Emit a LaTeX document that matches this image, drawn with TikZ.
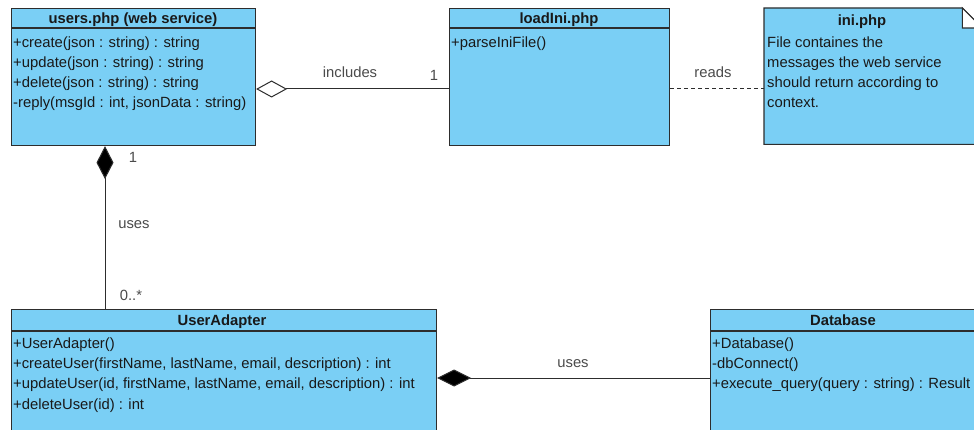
\documentclass[tikz,border=0pt]{standalone}
\usepackage{fontspec}
\setmainfont{Liberation Sans}
\usetikzlibrary{arrows.meta,calc}
\definecolor{umlfill}{RGB}{122,207,245}
\definecolor{umlline}{RGB}{45,45,45}
\definecolor{lbl}{RGB}{75,75,75}
\definecolor{txt}{RGB}{25,25,25}
\begin{document}
\begin{tikzpicture}[x=1pt,y=-1pt,
  font=\fontsize{14.8}{17}\selectfont,
  classbox/.style={draw=umlline, fill=umlfill, line width=1.1pt, rectangle, inner sep=0pt, anchor=north west},
  sepline/.style={draw=umlline, line width=1.1pt},
  title/.style={font=\fontsize{14.8}{17}\selectfont\bfseries, text=txt, inner sep=0pt, anchor=base},
  member/.style={anchor=base west, text=txt, inner sep=0pt},
  conn/.style={draw=umlline, line width=1pt},
  lab/.style={text=lbl, inner sep=0pt, anchor=base}]
\clip (0,0) rectangle (974,430);
\fill[white] (0,0) rectangle (974,430);

% users.php
\node[classbox, minimum width=244pt, minimum height=137pt] (users) at (11,8) {};
\draw[sepline] (users.west |- 0,28) -- (users.east |- 0,28);
\node[title] (usersT) at (133,24) {users.php (web service)};
\node[member] (u1) at (13,47.5) {+create(json : string) : string};
\node[member] (u2) at (13,67.5) {+update(json : string) : string};
\node[member] (u3) at (13,87.5) {+delete(json : string) : string};
\node[member] (u4) at (13,108) {-reply(msgId : int, jsonData : string)};

% loadIni.php
\node[classbox, minimum width=220pt, minimum height=137pt] (loadini) at (449,8) {};
\draw[sepline] (loadini.west |- 0,28) -- (loadini.east |- 0,28);
\node[title] (loadiniT) at (559,24) {loadIni.php};
\node[member] (l1) at (451,47.5) {+parseIniFile()};

% ini.php note
\node[anchor=north west, minimum width=218pt, minimum height=136pt, inner sep=0pt] (ini) at (764,8) {};
\draw[umlline, fill=umlfill, line width=1.1pt]
  (ini.north west) -- ($(ini.north east)+(-20,0)$) -- ($(ini.north east)+(0,20)$)
  -- (ini.south east) -- (ini.south west) -- cycle;
\draw[umlline, fill=white, line width=1.1pt]
  ($(ini.north east)+(-20,0)$) -- ($(ini.north east)+(-20,20)$) -- ($(ini.north east)+(0,20)$) -- cycle;
\node[title] (iniT) at (862,25.5) {ini.php};
\node[member] (n1) at (767,48) {File containes the};
\node[member] (n2) at (767,68) {messages the web service};
\node[member] (n3) at (767,88) {should return according to};
\node[member] (n4) at (767,108) {context.};

% UserAdapter
\node[classbox, minimum width=425pt, minimum height=150pt] (ua) at (11,309) {};
\draw[sepline] (ua.west |- 0,331) -- (ua.east |- 0,331);
\node[title] (uaT) at (222,325) {UserAdapter};
\node[member] (a1) at (13,348.5) {+UserAdapter()};
\node[member] (a2) at (13,368.5) {+createUser(firstName, lastName, email, description) : int};
\node[member] (a3) at (13,388.5) {+updateUser(id, firstName, lastName, email, description) : int};
\node[member] (a4) at (13,409) {+deleteUser(id) : int};

% Database
\node[classbox, minimum width=270pt, minimum height=150pt] (db) at (710,309) {};
\draw[sepline] (db.west |- 0,331) -- (db.east |- 0,331);
\node[title] (dbT) at (843,325) {Database};
\node[member] (d1) at (712,348) {+Database()};
\node[member] (d2) at (712,368) {-dbConnect()};
\node[member] (d3) at (712,388) {+execute\_query(query : string) : Result};

% connectors
\coordinate (incY) at (0,89);
\draw[conn, {Diamond[length=31pt,width=17pt,fill=white]}-] (users.east |- incY) -- (loadini.west |- incY);
\node[lab] (incL) at (350,78) {includes};
\node[lab] (incM) at (434,81) {1};

\draw[conn, dash pattern=on 4pt off 3pt] (loadini.east |- incY) -- (ini.west |- incY);
\node[lab] (readsL) at (713,78) {reads};

\coordinate (vX) at (105,0);
\draw[conn, {Diamond[length=33pt,width=17pt,fill=black]}-] (users.south -| vX) -- (ua.north -| vX);
\node[lab] (vM1) at (133,163) {1};
\node[lab] (vL) at (134,229) {uses};
\node[lab] (vM2) at (131,300) {0..*};

\coordinate (hY) at (0,378);
\draw[conn, {Diamond[length=34pt,width=17pt,fill=black]}-] (ua.east |- hY) -- (db.west |- hY);
\node[lab] (hL) at (573,367) {uses};
\end{tikzpicture}
\end{document}
